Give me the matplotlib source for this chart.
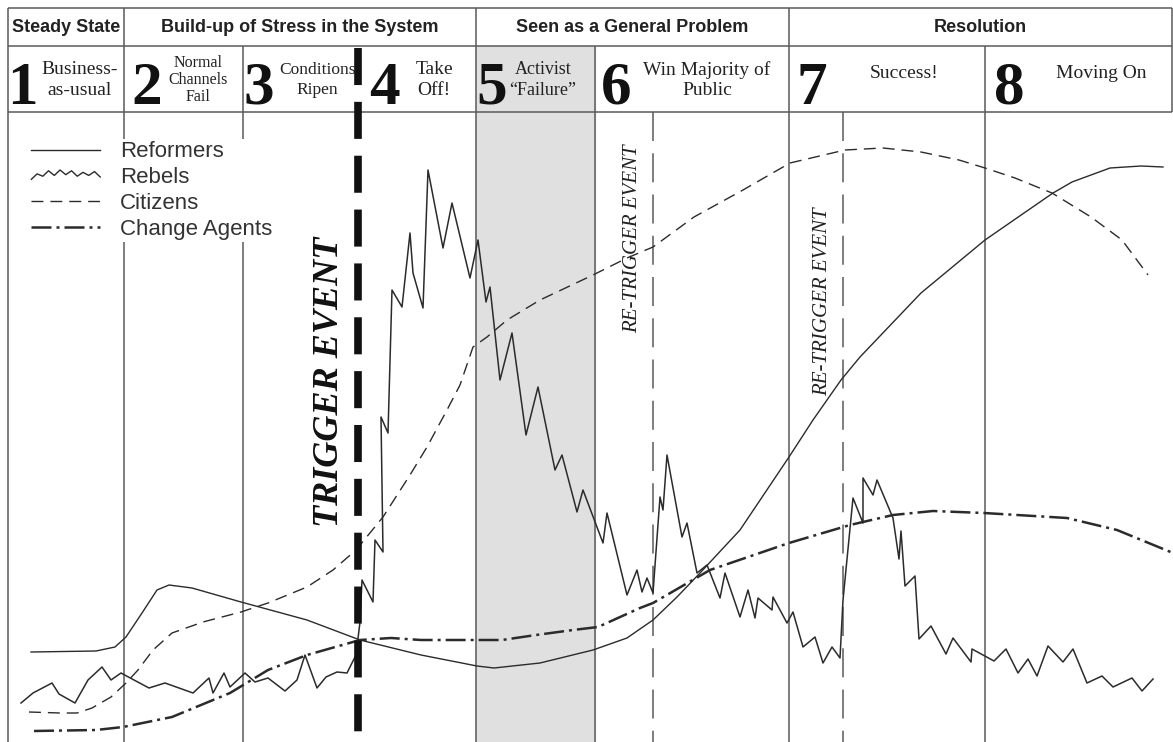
import numpy as np
import matplotlib.pyplot as plt
from matplotlib.lines import Line2D
from matplotlib.legend_handler import HandlerBase

# header rows
phase_names = ['Steady State', 'Build-up of Stress in the System',
               'Seen as a General Problem', 'Resolution']
phase_edges = [8, 124, 476, 789, 1172]

stage_nums = ['1', '2', '3', '4', '5', '6', '7', '8']
stage_labels = ['Business-\nas-usual', 'Normal\nChannels\nFail', 'Conditions\nRipen',
                'Take\nOff!', 'Activist\n\u201cFailure\u201d', 'Win Majority of\nPublic',
                'Success!', 'Moving On']
stage_edges = [8, 124, 243, 358, 476, 595, 789, 985, 1172]
trigger_x = 358
retrigger_x = [653, 843]

# curves (x position along the timeline, y measured downward from the top)
reformers_x = [31, 96, 115, 126, 142, 157, 169, 192, 241, 307, 360, 421, 477, 494,
               540, 593, 627, 653, 677, 700, 740, 789, 813, 841, 860, 921, 985,
               1053, 1072, 1110, 1141, 1163]
reformers_y = [652, 651, 647, 637, 613, 590, 585, 588, 602, 620, 640, 655, 666, 668,
               663, 650, 638, 620, 597, 573, 530, 457, 420, 380, 357, 293, 240,
               193, 182, 168, 166, 167]

rebels_x = [21, 33, 52, 59, 75, 88, 102, 111, 121, 134, 149, 165, 193, 209, 213, 224,
            230, 245, 255, 268, 285, 297, 305, 317, 326, 337, 347, 356, 360, 362, 373,
            375, 383, 381, 388, 392, 402, 410, 413, 423, 428, 443, 452, 470, 478, 486,
            490, 500, 512, 526, 538, 555, 562, 577, 583, 603, 607, 627, 637, 642, 647,
            653, 660, 663, 667, 682, 687, 697, 707, 720, 725, 740, 748, 755, 758, 772,
            773, 787, 793, 803, 815, 823, 832, 840, 843, 853, 863, 863, 873, 877, 893,
            899, 901, 905, 915, 919, 931, 946, 953, 971, 972, 994, 1006, 1018, 1028,
            1037, 1048, 1063, 1073, 1087, 1102, 1113, 1132, 1142, 1153]
rebels_y = [703, 693, 683, 694, 703, 680, 667, 680, 673, 680, 688, 683, 693, 678, 693, 673,
            687, 673, 682, 678, 691, 680, 655, 688, 677, 672, 673, 655, 622, 580, 602,
            540, 552, 417, 433, 290, 307, 233, 273, 308, 170, 248, 203, 278, 240, 302,
            287, 380, 333, 435, 387, 470, 455, 512, 490, 543, 513, 595, 570, 592, 578,
            593, 497, 510, 455, 537, 523, 573, 565, 598, 573, 617, 590, 618, 598, 610,
            597, 623, 612, 647, 637, 663, 647, 658, 600, 498, 523, 478, 495, 480, 518,
            559, 531, 586, 576, 639, 626, 654, 638, 662, 649, 661, 649, 673, 659,
            676, 646, 662, 649, 683, 676, 687, 678, 691, 679]

citizens_x = [29, 60, 77, 92, 111, 126, 138, 153, 172, 203, 241, 268, 307, 333, 356,
              383, 410, 427, 447, 460, 473, 487, 507, 540, 593, 627, 653, 694, 743,
              790, 845, 883, 921, 959, 985, 1015, 1052, 1091, 1122, 1148]
citizens_y = [712, 713, 713, 708, 697, 683, 670, 650, 633, 622, 612, 603, 587, 570, 550,
              517, 475, 447, 410, 385, 347, 337, 320, 300, 275, 258, 247, 217, 190,
              163, 150, 148, 152, 160, 168, 178, 193, 217, 240, 275]

agents_x = [34, 96, 123, 172, 230, 268, 307, 360, 391, 421, 477, 502, 536, 573, 598,
            640, 653, 710, 789, 850, 893, 933, 984, 1067, 1117, 1173]
agents_y = [731, 730, 727, 717, 693, 670, 655, 640, 638, 640, 640, 640, 635, 630, 627,
            608, 603, 570, 543, 525, 515, 511, 513, 518, 530, 553]

ink = '#2b2b2b'
rule = '#5a5a5a'
serif = ['Liberation Serif', 'DejaVu Serif']
sans = ['Liberation Sans', 'DejaVu Sans']


class ZigzagHandler(HandlerBase):
    # jagged legend sample for the Rebels line
    def create_artists(self, legend, orig_handle, xdescent, ydescent,
                       width, height, fontsize, trans):
        wiggle = np.array([-0.25, 0.1, -0.05, 0.3, 0.0, 0.35, 0.05, 0.3,
                           -0.05, 0.2, 0.0, 0.25, -0.1])
        xs = np.linspace(0, width, len(wiggle)) - xdescent
        ys = height / 2 - ydescent + height * wiggle
        line = Line2D(xs, ys, color=ink, lw=1.0)
        line.set_transform(trans)
        return [line]


fig = plt.figure(figsize=(11.73, 7.42), dpi=100)
ax = fig.add_axes([0, 0, 1, 1])
ax.set_xlim(0, 1173)
ax.set_ylim(742, 0)
ax.axis('off')

# shaded stage 5
ax.fill_between([stage_edges[4], stage_edges[5]], 46, 742, color='#e0e0e0', zorder=0)

# table rules
ax.hlines([8, 46, 112], 8, 1172, color=rule, lw=1.1, zorder=1)
ax.vlines(phase_edges, 8, 46, color=rule, lw=1.1, zorder=1)
for x in stage_edges:
    if x == trigger_x:
        continue
    bottom = 742 if x < 1172 else 112
    ax.vlines(x, 46, bottom, color=rule, lw=1.1, zorder=1)

# header text
for i, name in enumerate(phase_names):
    xc = (phase_edges[i] + phase_edges[i + 1]) / 2
    ax.text(xc, 28, name, ha='center', va='center', fontsize=13,
            fontweight='bold', family=sans, color='#222')

num_x = [22, 147, 259, 384, 492, 616, 812, 1009]
label_x = [80, 198, 317, 434, 543, 707, 904, 1101]
label_size = [14, 11.5, 12.5, 14, 13, 14, 14, 14]
for i in range(8):
    ax.text(num_x[i], 104, stage_nums[i], ha='center', va='baseline', fontsize=44,
            fontweight='bold', family=serif, color='#111')
    lines = stage_labels[i].count('\n') + 1
    yc = 80 if lines > 1 else 73
    ax.text(label_x[i], yc, stage_labels[i], ha='center', va='center',
            fontsize=label_size[i], family=serif, color='#222',
            linespacing=1.1 if lines == 3 else 1.25)

# curves
ax.plot(reformers_x, reformers_y, color=ink, lw=1.0, zorder=3)
ax.plot(rebels_x, rebels_y, color=ink, lw=1.1, zorder=3)
ax.plot(citizens_x, citizens_y, color=ink, lw=1.0, dashes=(8.6, 5), zorder=3)
ax.plot(agents_x, agents_y, color=ink, lw=1.8, dashes=(8, 2, 1.2, 2), zorder=3)

# trigger / re-trigger markers
ax.plot([trigger_x, trigger_x], [48, 742], color='#111', lw=5.5,
        dashes=(4.85, 2.2), zorder=4)
for x in retrigger_x:
    ax.plot([x, x], [112, 742], color=rule, lw=1.1, dashes=(19, 8), zorder=2)

ax.text(330, 382, 'TRIGGER EVENT', rotation=90, ha='center', va='center',
        fontsize=26, fontweight='bold', style='italic', family=serif, color='#111')
ax.text(633, 239, 'RE-TRIGGER EVENT', rotation=90, ha='center', va='center',
        fontsize=15, style='italic', family=serif, color='#222')
ax.text(823, 302, 'RE-TRIGGER EVENT', rotation=90, ha='center', va='center',
        fontsize=15, style='italic', family=serif, color='#222')

# legend
handles = [Line2D([], [], color=ink, lw=1.0),
           Line2D([], [], color=ink, lw=1.0),
           Line2D([], [], color=ink, lw=1.0, dashes=(8.6, 5)),
           Line2D([], [], color=ink, lw=1.8, dashes=(8, 2, 1.2, 2))]
labels = ['Reformers', 'Rebels', 'Citizens', 'Change Agents']
leg = ax.legend(handles, labels, loc='upper left',
                bbox_to_anchor=(18 / 1173, 1 - 128 / 742),
                prop={'family': sans, 'size': 16}, frameon=True,
                facecolor='white', edgecolor='none', framealpha=1,
                handlelength=3.1, handletextpad=0.9, labelspacing=0.22,
                borderpad=0.1, handler_map={handles[1]: ZigzagHandler()})
leg.set_zorder(5)
for t in leg.get_texts():
    t.set_color('#333')

fig.savefig('out.png', dpi=100)
